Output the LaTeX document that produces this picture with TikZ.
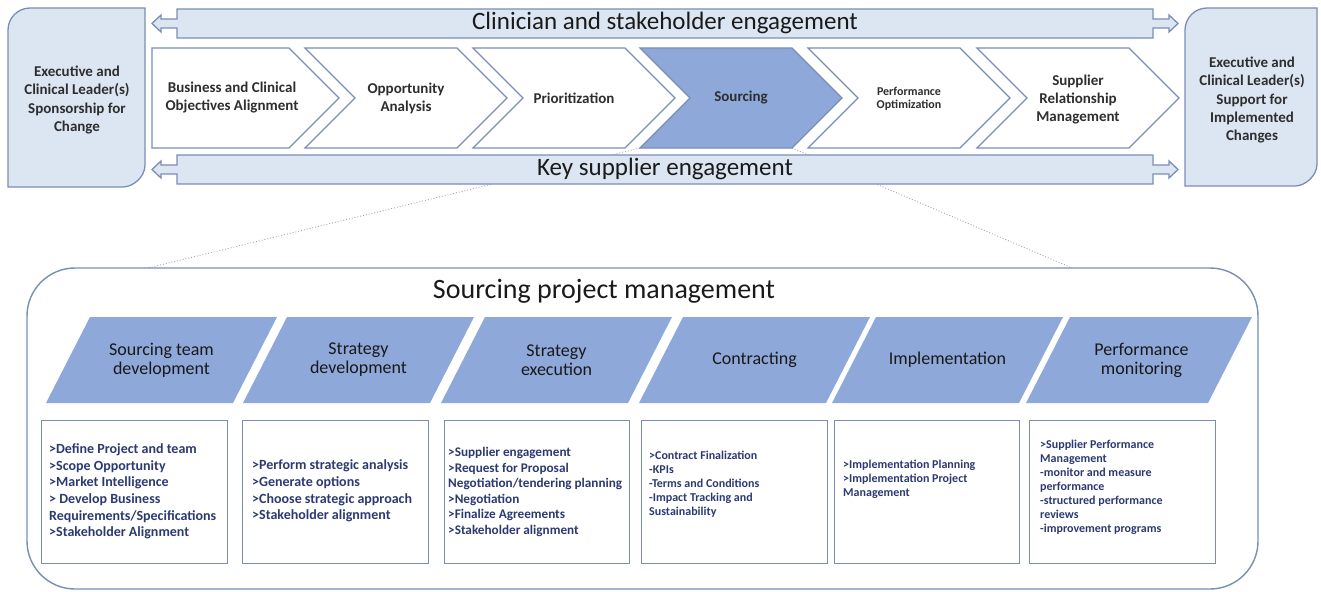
\documentclass[tikz,border=0pt]{standalone}
\usepackage{fontspec}
\setmainfont{Carlito}
\usetikzlibrary{calc}
\definecolor{paleblue}{HTML}{DCE6F2}
\definecolor{frameblue}{HTML}{7A8EB4}
\definecolor{midblue}{HTML}{8DA8D9}
\definecolor{navytext}{HTML}{2B3A72}
\definecolor{linkgray}{HTML}{94A4C4}
\definecolor{titleink}{HTML}{1A1A1A}

\begin{document}
\begin{tikzpicture}[x=1pt,y=-1pt,
  band/.style={draw=frameblue, fill=paleblue, line width=1.3pt, line join=miter},
  chevbox/.style={draw=frameblue, fill=white, line width=1.3pt, line join=miter},
  chevhot/.style={chevbox, fill=midblue},
  phase/.style={fill=midblue},
  taskbox/.style={draw=frameblue, fill=white, line width=1.4pt, inner sep=0pt,
    minimum height=143pt, anchor=north west},
  frame/.style={draw=frameblue, line width=1.4pt, rounded corners=48pt},
  link/.style={draw=linkgray, dotted, line width=0.9pt},
  chevlabel/.style={font=\fontsize{15}{18}\selectfont\bfseries, text=black!82, align=center},
  sidelabel/.style={font=\fontsize{15}{18.3}\selectfont\bfseries, text=black!82, align=center},
  phaselabel/.style={font=\fontsize{18}{19}\selectfont, text=black!90, align=center},
  tasklabel/.style={text=navytext, align=left, anchor=west, inner sep=0pt},
  bandlabel/.style={font=\fontsize{25}{28}\selectfont, text=titleink},
]
\useasboundingbox (0,0) rectangle (1321,591);

% corners of the highlighted chevron and the points where the zoom lines meet the frame
\coordinate (src-bl) at (640,148);
\coordinate (src-br) at (792,148);
\coordinate (zoom-l) at (148,268);
\coordinate (zoom-r) at (1072,268);

% zoom lines, drawn first so the bands cover them
\draw[link] (src-bl) -- (zoom-l);
\draw[link] (src-br) -- (zoom-r);

% side boxes
\draw[band] (8,187) -- (8,30) .. controls (8,17.9) and (17.9,8) .. (30,8) -- (145,8)
  -- (145,165) .. controls (145,177.1) and (132.9,187) .. (123,187) -- cycle;
\node[sidelabel] (lead) at (77,100) {Executive and\\Clinical Leader(s)\\Sponsorship for\\Change};

\draw[band] (1185,186) -- (1185,30) .. controls (1185,17.9) and (1194.9,8) .. (1207,8) -- (1317,8)
  -- (1317,164) .. controls (1317,176.1) and (1304.9,186) .. (1295,186) -- cycle;
\node[sidelabel] (support) at (1252,100) {Executive and\\Clinical Leader(s)\\Support for\\Implemented\\Changes};

% engagement bands with arrows at both ends
\draw[band] (177,9) -- (1153,9) -- (1153,19) -- (1169,19) -- (1169,15) -- (1178,23.5)
  -- (1169,32) -- (1169,28) -- (1153,28) -- (1153,38) -- (177,38) -- (177,28)
  -- (161,28) -- (161,32) -- (152,23.5) -- (161,15) -- (161,19) -- (177,19) -- cycle;
\node[bandlabel] (clin) at (665,23) {Clinician and stakeholder engagement};

\draw[band] (177,155) -- (1153,155) -- (1153,165) -- (1169,165) -- (1169,161) -- (1178,169.5)
  -- (1169,178) -- (1169,174) -- (1153,174) -- (1153,184) -- (177,184) -- (177,174)
  -- (161,174) -- (161,178) -- (152,169.5) -- (161,161) -- (161,165) -- (177,165) -- cycle;
\node[bandlabel] (keysup) at (665,169) {Key supplier engagement};

% process chevrons
\draw[chevbox] (152,48) -- (289,48) -- (339,98) -- (289,148) -- (152,148) -- cycle;
\node[chevlabel] (c1) at (232,98) {Business and Clinical\\Objectives Alignment};

\draw[chevbox] (305,48) -- (457,48) -- (507,98) -- (457,148) -- (305,148) -- (355,98) -- cycle;
\node[chevlabel] (c2) at (406,98) {Opportunity\\Analysis};

\draw[chevbox] (473,48) -- (625,48) -- (675,98) -- (625,148) -- (473,148) -- (523,98) -- cycle;
\node[chevlabel] (c3) at (574,98) {Prioritization};

\draw[chevhot] (640,48) -- (src-br |- 0,48) -- (842,98) -- (src-br) -- (src-bl) -- (690,98) -- cycle;
\node[chevlabel] (c4) at (741,98) {Sourcing};

\draw[chevbox] (808,48) -- (960,48) -- (1010,98) -- (960,148) -- (808,148) -- (858,98) -- cycle;
\node[chevlabel, font=\fontsize{12}{13}\selectfont\bfseries] (c5) at (909,99) {Performance\\Optimization};

\draw[chevbox] (977,48) -- (1129,48) -- (1179,98) -- (1129,148) -- (977,148) -- (1027,98) -- cycle;
\node[chevlabel] (c6) at (1078,100) {Supplier\\Relationship\\Management};

% sourcing project management frame
\draw[frame] (27,268) rectangle (1258,589);
\node[font=\fontsize{28}{30}\selectfont, text=titleink] (spm) at (604,291) {Sourcing project management};

% phase parallelograms
\fill[phase] (90,317) -- (277,317) -- (233,403) -- (46,403) -- cycle;
\node[phaselabel] (p1) at (161.5,360) {Sourcing team\\development};
\fill[phase] (287,317) -- (474,317) -- (430,403) -- (243,403) -- cycle;
\node[phaselabel] (p2) at (358.5,360) {Strategy\\development};
\fill[phase] (485,317) -- (672,317) -- (628,403) -- (441,403) -- cycle;
\node[phaselabel] (p3) at (556.5,360) {Strategy\\execution};
\fill[phase] (683,317) -- (870,317) -- (826,403) -- (639,403) -- cycle;
\node[phaselabel] (p4) at (754.5,360) {Contracting};
\fill[phase] (876,317) -- (1063,317) -- (1019,403) -- (832,403) -- cycle;
\node[phaselabel] (p5) at (947.5,360) {Implementation};
\fill[phase] (1070,317) -- (1252,317) -- (1208,403) -- (1026,403) -- cycle;
\node[phaselabel] (p6) at (1141.5,360) {Performance\\monitoring};

% task boxes
\node[taskbox, minimum width=186pt] (t1) at (41,420) {};
\node[taskbox, minimum width=186pt] (t2) at (242,420) {};
\node[taskbox, minimum width=185pt] (t3) at (444,420) {};
\node[taskbox, minimum width=186pt] (t4) at (641,420) {};
\node[taskbox, minimum width=185pt] (t5) at (834,420) {};
\node[taskbox, minimum width=186pt] (t6) at (1029,420) {};

\node[tasklabel, font=\fontsize{14}{16.6}\selectfont\bfseries] (t1text) at (49,491.5)
  {>Define Project and team\\>Scope Opportunity\\>Market Intelligence\\> Develop Business\\Requirements/Specifications\\>Stakeholder Alignment};
\node[tasklabel, font=\fontsize{14}{16.6}\selectfont\bfseries] (t2text) at (252,491)
  {>Perform strategic analysis\\>Generate options\\>Choose strategic approach\\>Stakeholder alignment};
\node[tasklabel, font=\fontsize{13.2}{15.5}\selectfont\bfseries] (t3text) at (448,492)
  {>Supplier engagement\\>Request for Proposal\\Negotiation/tendering planning\\>Negotiation\\>Finalize Agreements\\>Stakeholder alignment};
\node[tasklabel, font=\fontsize{12}{14}\selectfont\bfseries] (t4text) at (649,484.5)
  {>Contract Finalization\\-KPIs\\-Terms and Conditions\\-Impact Tracking and\\Sustainability};
\node[tasklabel, font=\fontsize{12}{14}\selectfont\bfseries] (t5text) at (843,479)
  {>Implementation Planning\\>Implementation Project\\Management};
\node[tasklabel, font=\fontsize{12}{14}\selectfont\bfseries] (t6text) at (1040,487)
  {>Supplier Performance\\Management\\-monitor and measure\\performance\\-structured performance\\reviews\\-improvement programs};
\end{tikzpicture}
\end{document}
